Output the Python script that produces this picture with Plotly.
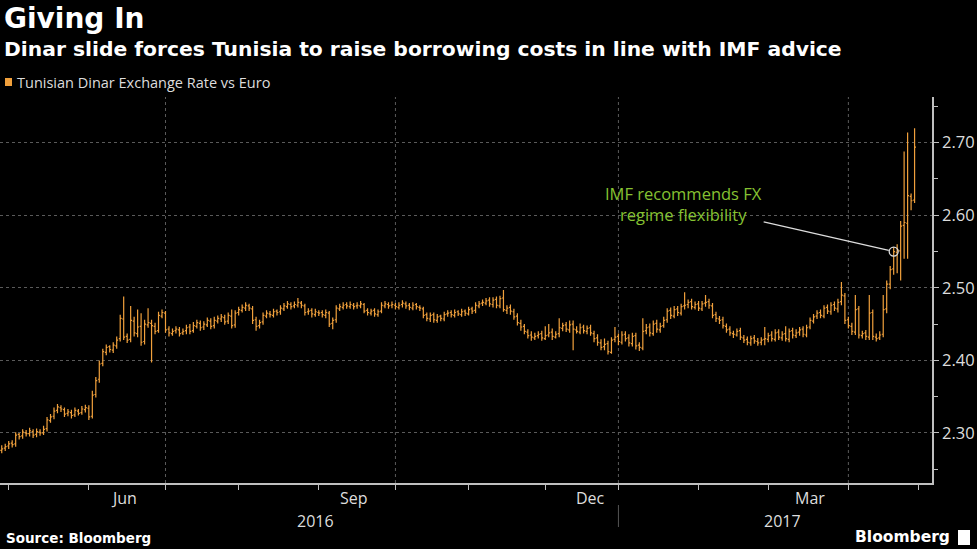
import pandas as pd
import plotly.graph_objects as go

# ---------------- data ----------------
start_date = "2016-04-27"

open_ = [
    2.276, 2.279, 2.282, 2.286, 2.285, 2.298, 2.296, 2.300, 2.299, 2.302,
    2.298, 2.301, 2.300, 2.306, 2.317, 2.323, 2.331, 2.335, 2.332, 2.327,
    2.328, 2.325, 2.330, 2.328, 2.332, 2.334, 2.323, 2.353, 2.374, 2.396,
    2.411, 2.419, 2.414, 2.420, 2.430, 2.457, 2.433, 2.429, 2.454, 2.437,
    2.447, 2.426, 2.449, 2.451, 2.447, 2.441, 2.461, 2.465, 2.443, 2.437,
    2.441, 2.442, 2.438, 2.441, 2.446, 2.441, 2.447, 2.451, 2.446, 2.449,
    2.454, 2.448, 2.454, 2.457, 2.459, 2.454, 2.461, 2.449, 2.466, 2.469,
    2.472, 2.475, 2.471, 2.456, 2.448, 2.453, 2.461, 2.464, 2.462, 2.468,
    2.467, 2.471, 2.474, 2.477, 2.475, 2.476, 2.479, 2.475, 2.467, 2.469,
    2.463, 2.466, 2.466, 2.462, 2.465, 2.451, 2.456, 2.471, 2.473, 2.477,
    2.474, 2.476, 2.475, 2.475, 2.477, 2.469, 2.465, 2.469, 2.463, 2.468,
    2.475, 2.477, 2.476, 2.476, 2.473, 2.477, 2.478, 2.476, 2.472, 2.477,
    2.473, 2.471, 2.463, 2.457, 2.463, 2.455, 2.461, 2.457, 2.464, 2.466,
    2.462, 2.467, 2.463, 2.468, 2.464, 2.471, 2.469, 2.475, 2.479, 2.479,
    2.483, 2.477, 2.484, 2.475, 2.486, 2.469, 2.473, 2.467, 2.461, 2.451,
    2.447, 2.439, 2.435, 2.431, 2.434, 2.437, 2.430, 2.435, 2.439, 2.432,
    2.437, 2.444, 2.449, 2.442, 2.450, 2.442, 2.439, 2.446, 2.440, 2.445,
    2.437, 2.431, 2.424, 2.419, 2.423, 2.411, 2.429, 2.433, 2.425, 2.436,
    2.431, 2.423, 2.434, 2.421, 2.417, 2.441, 2.446, 2.437, 2.451, 2.442,
    2.448, 2.456, 2.469, 2.461, 2.471, 2.465, 2.475, 2.477, 2.481, 2.473,
    2.478, 2.471, 2.479, 2.481, 2.475, 2.463, 2.457, 2.456, 2.447, 2.443,
    2.437, 2.435, 2.441, 2.431, 2.429, 2.424, 2.431, 2.426, 2.425, 2.429,
    2.429, 2.435, 2.429, 2.439, 2.431, 2.437, 2.429, 2.441, 2.434, 2.439,
    2.443, 2.435, 2.446, 2.454, 2.461, 2.466, 2.461, 2.473, 2.467, 2.477,
    2.471, 2.481, 2.489, 2.456, 2.447, 2.439, 2.471, 2.434, 2.438, 2.432,
    2.466, 2.432, 2.431, 2.436, 2.471, 2.505, 2.526, 2.549, 2.551, 2.586,
    2.589, 2.626, 2.621,
]

high = [
    2.283, 2.285, 2.289, 2.290, 2.301, 2.300, 2.305, 2.304, 2.307, 2.305,
    2.306, 2.305, 2.310, 2.322, 2.326, 2.335, 2.340, 2.338, 2.335, 2.333,
    2.332, 2.335, 2.333, 2.337, 2.339, 2.338, 2.358, 2.377, 2.400, 2.416,
    2.422, 2.421, 2.425, 2.433, 2.463, 2.488, 2.437, 2.475, 2.460, 2.470,
    2.465, 2.456, 2.472, 2.456, 2.452, 2.467, 2.470, 2.468, 2.447, 2.444,
    2.447, 2.446, 2.444, 2.449, 2.450, 2.453, 2.456, 2.455, 2.454, 2.459,
    2.458, 2.460, 2.462, 2.464, 2.463, 2.466, 2.470, 2.469, 2.474, 2.477,
    2.480, 2.478, 2.475, 2.460, 2.456, 2.466, 2.469, 2.468, 2.471, 2.470,
    2.476, 2.479, 2.482, 2.480, 2.481, 2.486, 2.482, 2.478, 2.472, 2.472,
    2.471, 2.469, 2.469, 2.470, 2.468, 2.459, 2.476, 2.478, 2.480, 2.480,
    2.481, 2.479, 2.480, 2.482, 2.479, 2.472, 2.471, 2.472, 2.470, 2.480,
    2.482, 2.480, 2.481, 2.479, 2.480, 2.483, 2.481, 2.479, 2.480, 2.479,
    2.476, 2.474, 2.466, 2.466, 2.466, 2.464, 2.463, 2.467, 2.469, 2.469,
    2.470, 2.469, 2.471, 2.470, 2.474, 2.474, 2.480, 2.482, 2.484, 2.486,
    2.487, 2.487, 2.488, 2.489, 2.497, 2.476, 2.477, 2.471, 2.465, 2.456,
    2.450, 2.443, 2.440, 2.438, 2.440, 2.441, 2.447, 2.450, 2.444, 2.440,
    2.458, 2.452, 2.453, 2.455, 2.455, 2.447, 2.451, 2.449, 2.448, 2.449,
    2.441, 2.436, 2.429, 2.430, 2.427, 2.432, 2.446, 2.437, 2.440, 2.440,
    2.436, 2.438, 2.438, 2.425, 2.458, 2.450, 2.451, 2.455, 2.456, 2.452,
    2.460, 2.472, 2.473, 2.475, 2.475, 2.478, 2.494, 2.484, 2.485, 2.481,
    2.482, 2.482, 2.490, 2.485, 2.479, 2.467, 2.461, 2.460, 2.451, 2.447,
    2.441, 2.444, 2.445, 2.435, 2.433, 2.434, 2.435, 2.431, 2.432, 2.446,
    2.438, 2.440, 2.443, 2.443, 2.440, 2.447, 2.444, 2.445, 2.443, 2.446,
    2.447, 2.449, 2.459, 2.464, 2.469, 2.470, 2.476, 2.477, 2.480, 2.481,
    2.485, 2.508, 2.493, 2.460, 2.452, 2.490, 2.475, 2.441, 2.442, 2.490,
    2.470, 2.437, 2.440, 2.490, 2.510, 2.530, 2.556, 2.560, 2.592, 2.688,
    2.714, 2.630, 2.720,
]

low = [
    2.272, 2.275, 2.278, 2.280, 2.281, 2.291, 2.292, 2.295, 2.295, 2.293,
    2.294, 2.296, 2.297, 2.302, 2.314, 2.319, 2.327, 2.329, 2.322, 2.323,
    2.320, 2.322, 2.324, 2.325, 2.328, 2.318, 2.320, 2.349, 2.369, 2.392,
    2.407, 2.411, 2.410, 2.416, 2.426, 2.428, 2.424, 2.425, 2.433, 2.432,
    2.420, 2.422, 2.445, 2.397, 2.436, 2.438, 2.458, 2.438, 2.433, 2.434,
    2.437, 2.433, 2.435, 2.436, 2.436, 2.438, 2.444, 2.441, 2.442, 2.446,
    2.443, 2.444, 2.451, 2.453, 2.449, 2.450, 2.444, 2.445, 2.462, 2.466,
    2.468, 2.468, 2.450, 2.441, 2.444, 2.449, 2.458, 2.459, 2.459, 2.462,
    2.463, 2.468, 2.471, 2.470, 2.472, 2.473, 2.472, 2.462, 2.463, 2.459,
    2.460, 2.461, 2.459, 2.458, 2.446, 2.443, 2.452, 2.468, 2.470, 2.471,
    2.471, 2.470, 2.471, 2.472, 2.465, 2.462, 2.462, 2.460, 2.460, 2.465,
    2.472, 2.471, 2.472, 2.470, 2.470, 2.473, 2.471, 2.469, 2.469, 2.470,
    2.468, 2.458, 2.454, 2.453, 2.452, 2.452, 2.454, 2.454, 2.460, 2.459,
    2.459, 2.461, 2.460, 2.461, 2.462, 2.464, 2.465, 2.472, 2.475, 2.476,
    2.474, 2.473, 2.472, 2.472, 2.467, 2.464, 2.463, 2.456, 2.448, 2.441,
    2.436, 2.430, 2.427, 2.428, 2.430, 2.427, 2.428, 2.432, 2.428, 2.430,
    2.432, 2.440, 2.439, 2.438, 2.414, 2.437, 2.436, 2.437, 2.436, 2.434,
    2.425, 2.420, 2.414, 2.414, 2.408, 2.409, 2.425, 2.421, 2.422, 2.426,
    2.419, 2.419, 2.415, 2.413, 2.414, 2.436, 2.433, 2.434, 2.438, 2.438,
    2.445, 2.452, 2.457, 2.458, 2.461, 2.462, 2.470, 2.472, 2.470, 2.470,
    2.468, 2.468, 2.474, 2.471, 2.458, 2.453, 2.450, 2.444, 2.438, 2.434,
    2.431, 2.433, 2.428, 2.424, 2.421, 2.420, 2.423, 2.420, 2.421, 2.421,
    2.425, 2.426, 2.426, 2.428, 2.427, 2.426, 2.425, 2.430, 2.431, 2.434,
    2.432, 2.432, 2.443, 2.451, 2.457, 2.458, 2.458, 2.464, 2.463, 2.468,
    2.466, 2.476, 2.450, 2.444, 2.435, 2.435, 2.430, 2.430, 2.428, 2.428,
    2.428, 2.426, 2.428, 2.432, 2.465, 2.498, 2.518, 2.520, 2.510, 2.540,
    2.540, 2.607, 2.617,
]

close = [
    2.278, 2.281, 2.285, 2.284, 2.297, 2.295, 2.301, 2.299, 2.303, 2.297,
    2.302, 2.300, 2.305, 2.318, 2.322, 2.330, 2.336, 2.333, 2.326, 2.329,
    2.324, 2.331, 2.327, 2.333, 2.335, 2.322, 2.352, 2.372, 2.395, 2.412,
    2.418, 2.415, 2.421, 2.428, 2.458, 2.432, 2.428, 2.455, 2.438, 2.446,
    2.425, 2.450, 2.452, 2.448, 2.440, 2.462, 2.466, 2.442, 2.438, 2.440,
    2.443, 2.437, 2.440, 2.445, 2.440, 2.448, 2.452, 2.445, 2.450, 2.455,
    2.447, 2.455, 2.458, 2.460, 2.453, 2.462, 2.448, 2.465, 2.470, 2.473,
    2.476, 2.472, 2.455, 2.447, 2.452, 2.462, 2.465, 2.463, 2.467, 2.466,
    2.472, 2.475, 2.478, 2.474, 2.477, 2.480, 2.476, 2.466, 2.468, 2.464,
    2.467, 2.465, 2.463, 2.466, 2.450, 2.455, 2.472, 2.474, 2.476, 2.475,
    2.477, 2.474, 2.476, 2.478, 2.468, 2.466, 2.468, 2.464, 2.467, 2.476,
    2.478, 2.475, 2.477, 2.474, 2.476, 2.479, 2.475, 2.473, 2.476, 2.474,
    2.472, 2.462, 2.458, 2.462, 2.456, 2.460, 2.458, 2.463, 2.465, 2.463,
    2.466, 2.464, 2.467, 2.465, 2.470, 2.468, 2.476, 2.478, 2.480, 2.482,
    2.478, 2.483, 2.476, 2.485, 2.470, 2.472, 2.468, 2.460, 2.452, 2.446,
    2.440, 2.434, 2.432, 2.433, 2.436, 2.431, 2.434, 2.438, 2.433, 2.436,
    2.445, 2.448, 2.443, 2.449, 2.443, 2.440, 2.445, 2.441, 2.444, 2.438,
    2.430, 2.425, 2.418, 2.422, 2.412, 2.428, 2.432, 2.426, 2.435, 2.430,
    2.424, 2.433, 2.420, 2.418, 2.440, 2.445, 2.438, 2.450, 2.443, 2.447,
    2.455, 2.468, 2.462, 2.470, 2.466, 2.474, 2.476, 2.480, 2.474, 2.477,
    2.472, 2.478, 2.480, 2.476, 2.462, 2.458, 2.455, 2.448, 2.442, 2.438,
    2.436, 2.440, 2.432, 2.428, 2.425, 2.430, 2.427, 2.424, 2.428, 2.430,
    2.434, 2.430, 2.438, 2.432, 2.436, 2.430, 2.440, 2.435, 2.438, 2.442,
    2.436, 2.445, 2.455, 2.460, 2.465, 2.462, 2.472, 2.468, 2.476, 2.472,
    2.480, 2.490, 2.455, 2.448, 2.440, 2.470, 2.435, 2.437, 2.433, 2.465,
    2.433, 2.430, 2.435, 2.470, 2.505, 2.525, 2.550, 2.552, 2.585, 2.590,
    2.627, 2.620, 2.694,
]

n = min(len(open_), len(high), len(low), len(close))
dates = pd.bdate_range(start=start_date, periods=n)

month_labels = ["Jun", "Sep", "Dec", "Mar"]
month_label_dates = ["2016-06-15", "2016-09-15", "2016-12-20", "2017-03-17"]
year_labels = ["2016", "2017"]
year_label_dates = ["2016-08-31", "2017-03-07"]
quarter_starts = ["2016-07-01", "2016-10-01", "2017-01-01", "2017-04-01"]
y_ticks = [2.30, 2.40, 2.50, 2.60, 2.70]
event_index = 256
event_text = "IMF recommends FX<br>regime flexibility"
series_name = "Tunisian Dinar Exchange Rate vs Euro"

# ---------------- styling ----------------
BAR = "#F0A03C"
AXIS = "#BFBFBF"
GRID = "#5A5A5A"
GREEN = "#86C232"
W, H = 977, 549
M_L, M_R, M_T, M_B = 0, 45, 97, 66
PH = H - M_T - M_B


def py(px):
    """Pixel row -> paper y."""
    return (H - M_B - px) / PH


def px_x(px):
    return (px - M_L) / (W - M_L - M_R)


fig = go.Figure()
fig.add_trace(go.Ohlc(
    x=dates[:n], open=open_[:n], high=high[:n], low=low[:n], close=close[:n],
    increasing=dict(line=dict(color=BAR, width=1.2)),
    decreasing=dict(line=dict(color=BAR, width=1.2)),
    tickwidth=0.4, showlegend=False, hoverinfo="skip",
))

# event marker
fig.add_trace(go.Scatter(
    x=[dates[event_index]], y=[close[event_index]], mode="markers",
    marker=dict(symbol="circle-open", size=9, color="#DDDDDD", line=dict(width=1.3)),
    showlegend=False, hoverinfo="skip",
))

annotations = []
# titles
annotations.append(dict(text="Giving In", x=px_x(2), y=py(19), xref="paper", yref="paper",
                        xanchor="left", yanchor="middle", showarrow=False,
                        font=dict(family="DejaVu Sans", size=28, color="white", weight="bold")))
annotations.append(dict(text="Dinar slide forces Tunisia to raise borrowing costs in line with IMF advice",
                        x=px_x(2), y=py(49), xref="paper", yref="paper",
                        xanchor="left", yanchor="middle", showarrow=False,
                        font=dict(family="DejaVu Sans", size=20.3, color="white", weight="bold")))
annotations.append(dict(text=series_name,
                        x=px_x(15), y=py(82), xref="paper", yref="paper",
                        xanchor="left", yanchor="middle", showarrow=False,
                        font=dict(family="Open Sans", size=14.5, color="#DDDDDD")))
annotations.append(dict(text="Source: Bloomberg", x=px_x(4), y=py(538), xref="paper", yref="paper",
                        xanchor="left", yanchor="middle", showarrow=False,
                        font=dict(family="DejaVu Sans", size=13.5, color="white", weight="bold")))
annotations.append(dict(text="Bloomberg", x=px_x(952), y=py(537), xref="paper", yref="paper",
                        xanchor="right", yanchor="middle", showarrow=False,
                        font=dict(family="DejaVu Sans", size=15.5, color="white", weight="bold")))
# month & year labels
for lab, d in zip(month_labels, month_label_dates):
    annotations.append(dict(text=lab, x=d, y=py(498), xref="x", yref="paper",
                            xanchor="center", yanchor="middle", showarrow=False,
                            font=dict(family="Open Sans", size=16, color="#DDDDDD")))
for lab, d in zip(year_labels, year_label_dates):
    annotations.append(dict(text=lab, x=d, y=py(521), xref="x", yref="paper",
                            xanchor="center", yanchor="middle", showarrow=False,
                            font=dict(family="Open Sans", size=16, color="#DDDDDD")))
# event annotation
annotations.append(dict(text=event_text, x=dates[event_index], y=close[event_index],
                        xref="x", yref="y", ax=-210, ay=-48, axref="pixel", ayref="pixel",
                        showarrow=True, arrowhead=0, arrowwidth=1.2, arrowcolor="#DDDDDD",
                        standoff=5, align="center",
                        font=dict(family="Open Sans", size=16.5, color=GREEN)))

shapes = []
for q in quarter_starts:
    shapes.append(dict(type="line", xref="x", yref="paper", x0=q, x1=q, y0=0, y1=1,
                       line=dict(color=GRID, width=1, dash="dot"), layer="below"))
shapes.append(dict(type="line", xref="x", yref="paper", x0="2017-01-01", x1="2017-01-01",
                   y0=py(505), y1=py(527), line=dict(color="#555555", width=1)))
# legend square
shapes.append(dict(type="rect", xref="paper", yref="paper", x0=px_x(5), x1=px_x(12),
                   y0=py(86), y1=py(78), fillcolor=BAR, line=dict(width=0)))
# small Bloomberg glyph
shapes.append(dict(type="rect", xref="paper", yref="paper", x0=px_x(958), x1=px_x(970),
                   y0=py(545), y1=py(530), fillcolor="white", line=dict(width=0)))

fig.update_layout(
    width=W, height=H,
    margin=dict(l=M_L, r=M_R, t=M_T, b=M_B, pad=0),
    paper_bgcolor="black", plot_bgcolor="black",
    annotations=annotations, shapes=shapes,
    showlegend=False,
)
fig.update_xaxes(
    type="date",
    range=["2016-04-26 12:00", "2017-05-05"],
    rangebreaks=[dict(bounds=["sat", "mon"])],
    rangeslider_visible=False,
    showgrid=False, zeroline=False,
    showline=True, linecolor=AXIS, linewidth=1.5,
    tickvals=quarter_starts, showticklabels=False,
    ticks="outside", ticklen=5, tickcolor=AXIS,
    minor=dict(ticks="outside", ticklen=5, tickcolor=AXIS, dtick="M1", tick0="2016-05-01",
               showgrid=False),
)
fig.update_yaxes(
    side="right", range=[2.231, 2.763],
    tickvals=y_ticks, tickformat=".2f",
    showgrid=True, gridcolor=GRID, griddash="dot", gridwidth=1,
    zeroline=False, showline=True, linecolor=AXIS, linewidth=1.5,
    ticks="outside", ticklen=5, tickcolor=AXIS,
    minor=dict(ticks="outside", ticklen=4, tickcolor=AXIS, dtick=0.05, tick0=2.25, showgrid=False),
    tickfont=dict(family="Open Sans", size=16.5, color="#DDDDDD"),
)

fig.write_html(
    "out.html",
    config={"displayModeBar": False},
    post_script="document.body.style.margin='0px';document.body.style.overflow='hidden';",
)
